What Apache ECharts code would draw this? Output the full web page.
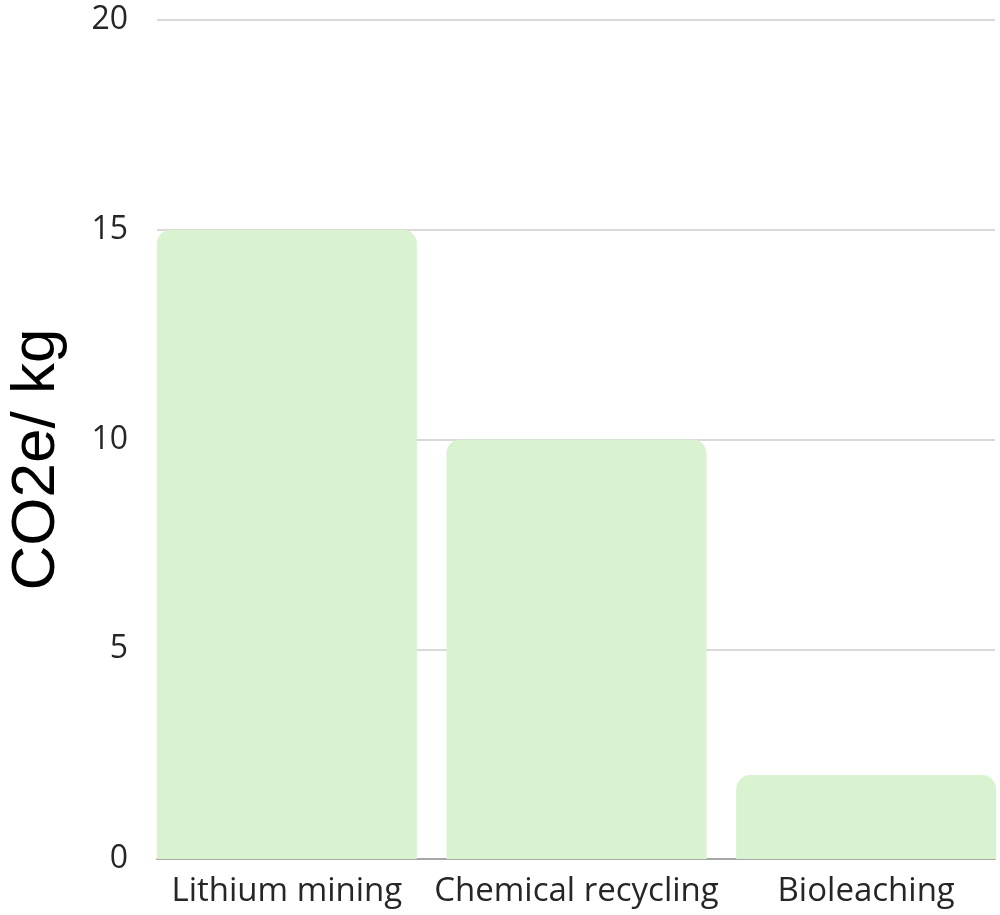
<!DOCTYPE html>
<html>
<head>
<meta charset="utf-8">
<script src="https://cdn.jsdelivr.net/npm/echarts@6/dist/echarts.min.js"></script>
<style>
html, body { margin: 0; padding: 0; background: #fff; }
#main { width: 1000px; height: 915px; }
</style>
</head>
<body>
<div id="main"></div>
<script>
// data
var categories = ['Lithium mining', 'Chemical recycling', 'Bioleaching'];
var values = [15, 10, 2];
var yTicks = [0, 5, 10, 15, 20];

var Chart = echarts.init(document.getElementById('main'));

var font = 'Open Sans';

var option = {
    animation: false,
    grid: [
        // axis frame: gridlines and baseline
        { left: 157, right: 5, top: 20, bottom: 56, outerBoundsMode: 'none' },
        // bars, slightly wider so bars reach the frame edges
        { left: 142, width: 869, top: 20, bottom: 56, outerBoundsMode: 'none' }
    ],
    xAxis: [
        {
            type: 'category',
            gridIndex: 0,
            data: categories,
            axisLine: { show: true, lineStyle: { color: '#a6a6a6', width: 2 } },
            axisTick: { show: false },
            axisLabel: { show: false }
        },
        {
            type: 'category',
            gridIndex: 1,
            data: categories,
            axisLine: { show: false },
            axisTick: { show: false },
            axisLabel: {
                interval: 0,
                margin: 16,
                fontFamily: font,
                fontSize: 33,
                color: '#262626'
            }
        }
    ],
    yAxis: [
        {
            type: 'value',
            gridIndex: 0,
            min: yTicks[0],
            max: yTicks[yTicks.length - 1],
            interval: 5,
            name: 'CO2e/ kg',
            nameLocation: 'middle',
            nameGap: 89,
            nameTextStyle: {
                fontFamily: 'Liberation Sans',
                fontSize: 62,
                color: '#000',
                padding: [0, 40, 0, 0]
            },
            axisLine: { show: false },
            axisTick: { show: false },
            axisLabel: {
                margin: 29,
                fontFamily: font,
                fontSize: 32,
                color: '#262626'
            },
            splitLine: { show: true, lineStyle: { color: '#d9d9d9', width: 2 } }
        },
        {
            type: 'value',
            gridIndex: 1,
            min: yTicks[0],
            max: yTicks[yTicks.length - 1],
            interval: 5,
            show: false
        }
    ],
    series: [
        {
            type: 'bar',
            xAxisIndex: 1,
            yAxisIndex: 1,
            barWidth: 260,
            itemStyle: { color: '#d9f2d0', borderRadius: [14, 14, 0, 0] },
            data: values
        }
    ]
};

Chart.setOption(option);
</script>
</body>
</html>
